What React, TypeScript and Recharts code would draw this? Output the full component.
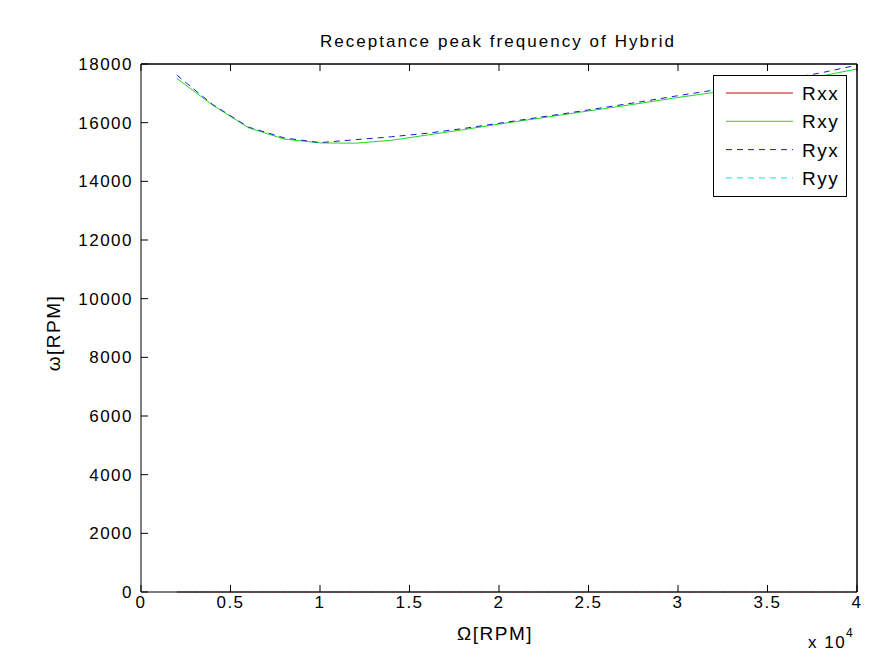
import React from "react";
import { LineChart, Line, XAxis, YAxis, Legend, ReferenceLine } from "recharts";

// rotor speed, RPM
const omega = [2000, 4000, 6000, 8000, 10000, 12000, 14000, 16000, 18000, 20000, 22000, 24000, 26000, 28000, 30000, 32000, 34000, 36000, 38000, 40000];

// receptance peak frequencies, RPM
const rxx = [0, 0, 0, 0, 0, 0, 0, 0, 0, 0, 0, 0, 0, 0, 0, 0, 0, 0, 0, 0];
const rxy = [17510, 16600, 15830, 15440, 15310, 15300, 15400, 15580, 15760, 15950, 16130, 16310, 16490, 16670, 16860, 17030, 17200, 17380, 17590, 17830];
const ryx = [17620, 16620, 15850, 15480, 15320, 15420, 15520, 15640, 15800, 15980, 16160, 16340, 16530, 16720, 16920, 17110, 17290, 17480, 17700, 17960];
const ryy = [0, 0, 0, 0, 0, 0, 0, 0, 0, 0, 0, 0, 0, 0, 0, 0, 0, 0, 0, 0];

const xTicks = [0, 5000, 10000, 15000, 20000, 25000, 30000, 35000, 40000];
const yTicks = [0, 2000, 4000, 6000, 8000, 10000, 12000, 14000, 16000, 18000];

const series = [
  { key: "rxx", name: "Rxx", color: "#d40000", dash: undefined },
  { key: "rxy", name: "Rxy", color: "#22d822", dash: undefined },
  { key: "ryx", name: "Ryx", color: "#1a1acc", dash: "6 5" },
  { key: "ryy", name: "Ryy", color: "#1ee0e0", dash: "6 5" },
];

const data = omega.map((w, i) => ({ omega: w, rxx: rxx[i], rxy: rxy[i], ryx: ryx[i], ryy: ryy[i] }));

const TL = 7; // inward tick length

// matlab-style ticks: drawn inside the box
const BottomTick = (p: any) => (
  <g>
    <line x1={p.x} x2={p.x} y1={p.y - 4} y2={p.y - 4 - TL} stroke="#000" />
    <text x={p.x} y={p.y + 12} textAnchor="middle" fontSize={17} letterSpacing={1.5} fill="#000">
      {String(p.payload.value / 10000)}
    </text>
  </g>
);
const LeftTick = (p: any) => (
  <g>
    <line x1={p.x + 9} x2={p.x + 9 + TL} y1={p.y} y2={p.y} stroke="#000" />
    <text x={p.x + 1} y={p.y + 6} textAnchor="end" fontSize={17} letterSpacing={1.5} fill="#000">
      {p.payload.value}
    </text>
  </g>
);
const TopTick = (p: any) => <line x1={p.x} x2={p.x} y1={p.y} y2={p.y + TL} stroke="#000" />;
const RightTick = (p: any) => <line x1={p.x} x2={p.x - TL} y1={p.y} y2={p.y} stroke="#000" />;

const LegendBox = () => (
  <svg width={135} height={123} style={{ display: "block" }}>
    <rect x={0.5} y={0.5} width={133} height={121} fill="#fff" stroke="#000" strokeWidth={1} />
    {series.map((s, i) => {
      const y = 18 + i * 28.3;
      return (
        <g key={s.key}>
          <line x1={13} x2={80} y1={y} y2={y} stroke={s.color} strokeDasharray={s.dash} strokeWidth={1} />
          <text x={89} y={y + 7} fontSize={19} letterSpacing={1.5} fill="#000">
            {s.name}
          </text>
        </g>
      );
    })}
  </svg>
);

export default function App() {
  return (
    <div style={{ position: "absolute", left: 0, top: 0, width: 886, height: 669, background: "#fff", fontFamily: "'Liberation Sans', Arial, sans-serif" }}>
      <LineChart width={886} height={669} data={data} margin={{ top: 63, right: 28, left: 81, bottom: 47 }}>
        <XAxis
          xAxisId="b"
          dataKey="omega"
          type="number"
          domain={[0, 40000]}
          ticks={xTicks}
          height={30}
          tickSize={0}
          tickMargin={4}
          tickLine={false}
          tick={<BottomTick />}
          axisLine={{ stroke: "#000" }}
          label={{
            content: () => (
              <g>
                <text x={495} y={640} textAnchor="middle" fontSize={19} letterSpacing={1.5} fill="#000">
                  Ω[RPM]
                </text>
                <text x={808} y={648} fontSize={17} letterSpacing={1.5} fill="#000">
                  x 10
                </text>
                <text x={846} y={637} fontSize={12} fill="#000">
                  4
                </text>
              </g>
            ),
          }}
        />
        <XAxis
          xAxisId="t"
          dataKey="omega"
          type="number"
          orientation="top"
          domain={[0, 40000]}
          ticks={xTicks}
          height={1}
          tickSize={0}
          tickMargin={0}
          tickLine={false}
          tick={<TopTick />}
          axisLine={{ stroke: "#000" }}
          label={{
            content: () => (
              <text x={498} y={47} textAnchor="middle" fontSize={17} letterSpacing={2.05} fill="#000">
                Receptance peak frequency of Hybrid
              </text>
            ),
          }}
        />
        <YAxis
          yAxisId="l"
          type="number"
          domain={[0, 18000]}
          ticks={yTicks}
          width={60}
          tickSize={0}
          tickMargin={9}
          tickLine={false}
          tick={<LeftTick />}
          axisLine={{ stroke: "#000" }}
          label={{
            content: () => (
              <text x={60} y={333} textAnchor="middle" fontSize={19} letterSpacing={1.5} fill="#000" transform="rotate(-90 60 333)">
                ω[RPM]
              </text>
            ),
          }}
        />
        <YAxis
          yAxisId="r"
          type="number"
          orientation="right"
          domain={[0, 18000]}
          ticks={yTicks}
          width={1}
          tickSize={0}
          tickMargin={0}
          tickLine={false}
          tick={<RightTick />}
          axisLine={{ stroke: "#000" }}
        />
        {/* top and right edges of the box */}
        <ReferenceLine xAxisId="b" yAxisId="l" y={18000} stroke="#000" strokeWidth={1} ifOverflow="visible" />
        <ReferenceLine xAxisId="b" yAxisId="l" x={40000} stroke="#000" strokeWidth={1} ifOverflow="visible" />
        {series.map((s) => (
          <Line
            key={s.key}
            xAxisId="b"
            yAxisId="l"
            type="linear"
            dataKey={s.key}
            name={s.name}
            stroke={s.color}
            strokeDasharray={s.dash}
            strokeWidth={1}
            dot={false}
            activeDot={false}
            isAnimationActive={false}
          />
        ))}
        <Legend
          layout="horizontal"
          align="center"
          verticalAlign="middle"
          content={() => <LegendBox />}
          wrapperStyle={{ position: "absolute", left: 713, top: 75, width: 135, height: 123 }}
        />
      </LineChart>
    </div>
  );
}
